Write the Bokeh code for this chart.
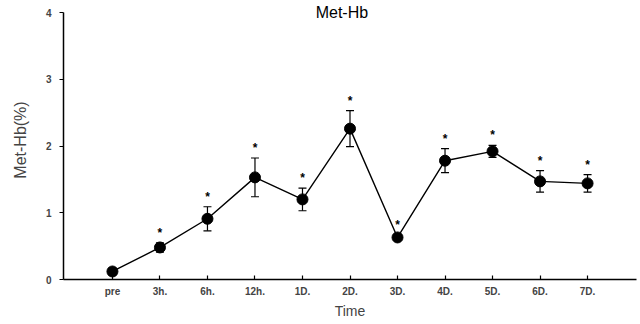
from bokeh.plotting import figure
from bokeh.models import Range1d, FixedTicker, Whisker, ColumnDataSource, Label, TeeHead
from bokeh.core.properties import value
from bokeh.embed import file_html
from bokeh.resources import INLINE

# ---- data ----
categories = ["pre", "3h.", "6h.", "12h.", "1D.", "2D.", "3D.", "4D.", "5D.", "6D.", "7D."]
met_hb = [0.12, 0.48, 0.91, 1.53, 1.20, 2.26, 0.63, 1.78, 1.92, 1.47, 1.44]
err = [0.05, 0.07, 0.18, 0.29, 0.17, 0.27, 0.03, 0.18, 0.09, 0.16, 0.13]
significant = [False, True, True, True, True, True, True, True, True, True, True]
y_ticks = [0, 1, 2, 3, 4]

xs = list(range(len(categories)))
upper = [v + e for v, e in zip(met_hb, err)]
lower = [v - e for v, e in zip(met_hb, err)]
src = ColumnDataSource(dict(x=xs, y=met_hb, upper=upper, lower=lower))
star_x = [x for x, s in zip(xs, significant) if s]
star_y = [u for u, s in zip(upper, significant) if s]
star_src = ColumnDataSource(dict(x=star_x, y=star_y, t=["*"] * len(star_x)))

FONT = "Liberation Sans"

p = figure(width=640, height=324, output_backend="svg", toolbar_location=None,
           x_range=Range1d(-1.03, 11.03), y_range=Range1d(0, 4.18),
           min_border_left=63, min_border_right=4, min_border_top=0, min_border_bottom=45)
p.outline_line_color = None
p.xgrid.visible = False
p.ygrid.visible = False
p.background_fill_color = "white"
p.border_fill_color = "white"

# axes
xa = p.xaxis[0]
xa.ticker = FixedTicker(ticks=xs)
xa.major_label_overrides = {i: c for i, c in enumerate(categories)}
xa.major_tick_in = 4
xa.major_tick_out = 0
xa.minor_tick_line_color = None
xa.axis_line_width = 1.5
xa.major_tick_line_width = 1.2
xa.major_label_text_font = FONT
xa.major_label_text_font_style = "bold"
xa.major_label_text_font_size = "10px"
xa.major_label_standoff = 6
xa.axis_label = "Time"
xa.axis_label_text_font = FONT
xa.axis_label_text_font_style = "normal"
xa.axis_label_text_font_size = "14px"
xa.axis_label_standoff = 3

ya = p.yaxis[0]
ya.ticker = FixedTicker(ticks=y_ticks)
ya.bounds = (y_ticks[0], y_ticks[-1])
ya.major_tick_in = 0
ya.major_tick_out = 4
ya.minor_tick_line_color = None
ya.axis_line_width = 1.5
ya.major_tick_line_width = 1.2
ya.major_label_text_font = FONT
ya.major_label_text_font_style = "bold"
ya.major_label_text_font_size = "10px"
ya.major_label_standoff = 8
ya.axis_label = "Met-Hb(%)"
ya.axis_label_text_font = FONT
ya.axis_label_text_font_style = "normal"
ya.axis_label_text_font_size = "16px"
ya.axis_label_standoff = 14

# data marks
p.add_layout(Whisker(source=src, base="x", upper="upper", lower="lower",
                     line_color="black", line_width=1.2,
                     upper_head=TeeHead(size=8, line_color="black", line_width=1.2),
                     lower_head=TeeHead(size=8, line_color="black", line_width=1.2)))
p.line("x", "y", source=src, line_color="black", line_width=1.4)
p.scatter("x", "y", source=src, size=11, fill_color="black", line_color="black")
p.text("x", "y", text="t", source=star_src, text_align="center", text_baseline="middle",
       y_offset=-10, text_font=value(FONT), text_font_style="bold", text_font_size="12px",
       text_color="black")

p.add_layout(Label(x=4.83, y=4.0, text="Met-Hb",
                   text_align="center", text_baseline="middle", text_font=FONT,
                   text_font_size="16px", text_color="black"))

open("out.html", "w").write(file_html(p, INLINE))
